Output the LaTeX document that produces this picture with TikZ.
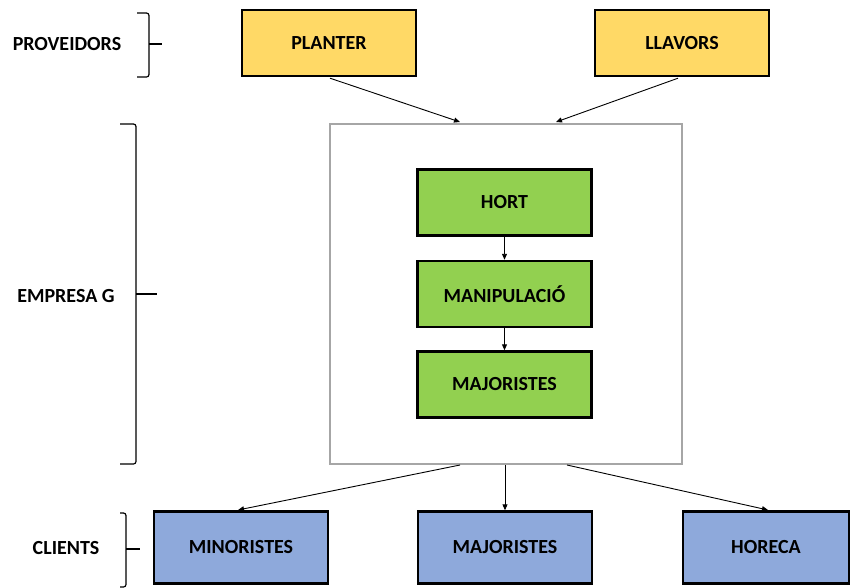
\documentclass[tikz,border=0pt]{standalone}
\usepackage{fontspec}
\setmainfont{Carlito}
\usetikzlibrary{arrows.meta}
\definecolor{yel}{HTML}{FFD966}
\definecolor{grn}{HTML}{92D050}
\definecolor{blu}{HTML}{8EA9DB}
\definecolor{gry}{HTML}{A6A6A6}
\tikzset{
  box/.style={draw=black, line width=2.4pt, minimum width=174pt, minimum height=66pt, font=\bfseries\fontsize{20}{24}\selectfont, inner sep=0pt},
  ybox/.style={box, fill=yel},
  gbox/.style={box, fill=grn},
  bbox/.style={box, fill=blu, minimum height=72pt},
  conn/.style={-{Triangle[length=6pt,width=5pt]}, line width=0.9pt},
  brace/.style={line width=1.2pt, rounded corners=2.5pt},
  lbl/.style={font=\bfseries\fontsize{20}{24}\selectfont},
}
\begin{document}
\begin{tikzpicture}[x=1pt,y=-1pt]
\useasboundingbox (0,0) rectangle (852,587);
% outer company box
\node[draw=gry, line width=2pt, minimum width=352pt, minimum height=340pt, inner sep=0pt] (emp) at (505.5,293.5) {};
% providers
\node[ybox] (planter) at (329,43) {PLANTER};
\node[ybox] (llavors) at (682,43) {LLAVORS};
% green chain
\node[gbox] (hort) at (504.5,202.5) {HORT};
\node[gbox] (manip) at (504.5,294) {MANIPULACIÓ};
\node[gbox] (majg) at (504.5,384.5) {MAJORISTES};
% clients
\node[bbox] (mino) at (241,547.5) {MINORISTES};
\node[bbox] (majb) at (505,547.5) {MAJORISTES};
\node[bbox, minimum width=166pt] (horeca) at (766,547.5) {HORECA};
% connector anchors
\coordinate (pin1) at (460,122);
\coordinate (pin2) at (556,122);
\coordinate (pout1) at (460,465);
\coordinate (pout2) at (505,465);
\coordinate (pout3) at (567,465);
\draw[conn] (planter.south) ++(1,1) coordinate (ps) -- (pin1);
\draw[conn] (llavors.south) ++(-4,1) coordinate (ls) -- (pin2);
\draw[conn] (hort.south) -- (manip.north);
\draw[conn] (manip.south) -- (majg.north);
\draw[conn] (pout1) -- (238,510) coordinate (mt);
\draw[conn] (pout2) -- (majb.north);
\draw[conn] (pout3) -- (768,510) coordinate (ht);
% labels
\node[lbl] (lprov) at (67,44) {PROVEIDORS};
\node[lbl] (lemp) at (66,296) {EMPRESA G};
\node[lbl] (lcli) at (66,548) {CLIENTS};
% braces
\draw[brace] (137,13) -- (149,13) -- (149,77) -- (137,77);
\draw[line width=1.2pt] (149,44) -- (162,44);
\draw[brace] (120,124) -- (136,124) -- (136,464) -- (120,464);
\draw[line width=1.2pt] (136,294) -- (157,294);
\draw[brace] (120,513) -- (126,513) -- (126,587) -- (120,587);
\draw[line width=1.2pt] (126,549) -- (140,549);
\end{tikzpicture}
\end{document}
